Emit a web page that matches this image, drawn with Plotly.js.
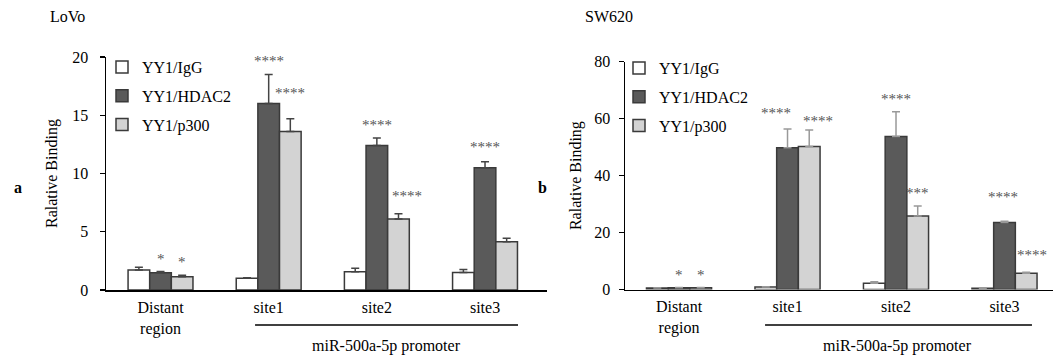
<!DOCTYPE html>
<html>
<head>
<meta charset="utf-8">
<script src="https://cdn.plot.ly/plotly-3.0.1.min.js"></script>
<style>html,body{margin:0;padding:0;background:#fff;}#chart{width:1053px;height:356px;}</style>
</head>
<body>
<div id="chart"></div>
<script>
// ---- data ----
const categories = ["Distant<br>region", "site1", "site2", "site3"];
const seriesNames = ["YY1/IgG", "YY1/HDAC2", "YY1/p300"];

// LoVo (panel a)
const lovoIgG = [1.72, 1.0, 1.57, 1.5];
const lovoIgGErr = [0.23, 0.05, 0.29, 0.25];
const lovoHDAC2 = [1.49, 16.0, 12.4, 10.5];
const lovoHDAC2Err = [0.09, 2.5, 0.65, 0.5];
const lovoP300 = [1.14, 13.6, 6.1, 4.15];
const lovoP300Err = [0.12, 1.1, 0.45, 0.3];
const lovoStars = [["", "", "", ""], ["*", "****", "****", "****"], ["*", "****", "****", ""]];

// SW620 (panel b)
const swIgG = [0.5, 0.9, 2.2, 0.4];
const swIgGErr = [0.1, 0.1, 0.5, 0.1];
const swHDAC2 = [0.6, 49.8, 53.7, 23.5];
const swHDAC2Err = [0.1, 6.6, 8.7, 0.5];
const swP300 = [0.6, 50.2, 25.8, 5.7];
const swP300Err = [0.1, 5.8, 3.5, 0.4];
const swStars = [["", "", "", ""], ["*", "****", "****", "****"], ["*", "****", "***", "****"]];

const panelTitles = ["LoVo", "SW620"];
const panelLetters = ["a", "b"];
const groupLabel = "miR-500a-5p promoter";
const yTitle = "Ralative Binding";

// ---- styles ----
const FONT = '"Liberation Serif", "Times New Roman", serif';
const fills = ["#ffffff", "#5a5a5a", "#d3d3d3"];
const outline = "#3a3a3a";
// pixel nudges for individual significance labels: key "panel-series-category"
const starNudge = {
  "a-2-1": {dx: 0, dy: 13}, "a-2-2": {dx: 9, dy: 5}, "a-1-3": {dx: 0, dy: 2},
  "b-1-1": {dx: -12, dy: 3}, "b-2-1": {dx: 9, dy: -4}, "b-1-3": {dx: -2, dy: 11}, "b-2-3": {dx: 6, dy: 4}
};

function makeTraces(vals, errs, xa, ya, legend, errColor) {
  return vals.map((v, i) => ({
    type: "bar",
    name: seriesNames[i],
    x: categories,
    y: v,
    xaxis: xa, yaxis: ya,
    legend: legend,
    legendgroup: legend + i,
    marker: {color: fills[i], line: {color: outline, width: 1.5}},
    error_y: {type: "data", symmetric: false, array: errs[i], arrayminus: errs[i].map(() => 0),
              color: errColor, thickness: 1.5, width: 4},
    hoverinfo: "none"
  }));
}

const traces = [
  ...makeTraces([lovoIgG, lovoHDAC2, lovoP300], [lovoIgGErr, lovoHDAC2Err, lovoP300Err], "x", "y", "legend", "#444"),
  ...makeTraces([swIgG, swHDAC2, swP300], [swIgGErr, swHDAC2Err, swP300Err], "x2", "y2", "legend2", "#999")
];

function starAnnots(panel, vals, errs, stars, xref, yref) {
  const out = [];
  vals.forEach((v, i) => v.forEach((val, c) => {
    if (!stars[i][c]) return;
    const n = starNudge[panel + "-" + i + "-" + c] || {dx: 0, dy: 0};
    out.push({
      x: c + (i - 1) * 0.2, y: val + errs[i][c], xref: xref, yref: yref,
      text: stars[i][c], showarrow: false, yanchor: "bottom", yshift: 3 + n.dy, xshift: n.dx,
      font: {family: FONT, size: 15, color: "#555"}
    });
  }));
  return out;
}

const annotations = [
  ...starAnnots("a", [lovoIgG, lovoHDAC2, lovoP300], [lovoIgGErr, lovoHDAC2Err, lovoP300Err], lovoStars, "x", "y"),
  ...starAnnots("b", [swIgG, swHDAC2, swP300], [swIgGErr, swHDAC2Err, swP300Err], swStars, "x2", "y2"),
  {text: panelTitles[0], x: 48/1053, y: 1 - 17/356, xref: "paper", yref: "paper", xanchor: "left", yanchor: "middle", showarrow: false, font: {family: FONT, size: 16, color: "#000"}},
  {text: panelTitles[1], x: 583/1053, y: 1 - 17/356, xref: "paper", yref: "paper", xanchor: "left", yanchor: "middle", showarrow: false, font: {family: FONT, size: 16, color: "#000"}},
  {text: "<b>" + panelLetters[0] + "</b>", x: 18/1053, y: 1 - 187/356, xref: "paper", yref: "paper", xanchor: "center", yanchor: "middle", showarrow: false, font: {family: FONT, size: 16, color: "#000"}},
  {text: "<b>" + panelLetters[1] + "</b>", x: 542/1053, y: 1 - 187/356, xref: "paper", yref: "paper", xanchor: "center", yanchor: "middle", showarrow: false, font: {family: FONT, size: 16, color: "#000"}},
  {text: groupLabel, x: 2.085, y: 1 - 346/356, xref: "x", yref: "paper", xanchor: "center", yanchor: "middle", showarrow: false, font: {family: FONT, size: 16, color: "#000"}},
  {text: groupLabel, x: 2.018, y: 1 - 346/356, xref: "x2", yref: "paper", xanchor: "center", yanchor: "middle", showarrow: false, font: {family: FONT, size: 16, color: "#000"}}
];

const shapes = [
  {type: "line", xref: "x", yref: "paper", x0: 0.874, x1: 3.305, y0: 1 - 325/356, y1: 1 - 325/356, line: {color: "#000", width: 1.5}},
  {type: "line", xref: "x2", yref: "paper", x0: 0.793, x1: 3.253, y0: 1 - 325/356, y1: 1 - 325/356, line: {color: "#000", width: 1.5}}
];

const xCommon = {type: "category", showgrid: false, zeroline: false, showline: true, linecolor: "#000", linewidth: 1.5,
  ticks: "", ticklabelstandoff: 2, tickfont: {family: FONT, size: 16, color: "#000"}, fixedrange: true};
const yCommon = {showgrid: false, zeroline: false, showline: true, linecolor: "#000", linewidth: 1.5,
  ticks: "outside", ticklen: 5, tickcolor: "#000", tickwidth: 1.2, ticklabelstandoff: 8,
  tickfont: {family: FONT, size: 16, color: "#000"}, fixedrange: true};

const legendCommon = {font: {family: FONT, size: 16, color: "#000"}, bgcolor: "rgba(0,0,0,0)",
  traceorder: "grouped", tracegroupgap: 5, itemwidth: 30, xanchor: "left", yanchor: "top"};

const layout = {
  width: 1053, height: 356,
  margin: {l: 0, r: 0, t: 0, b: 0},
  paper_bgcolor: "#fff", plot_bgcolor: "rgba(0,0,0,0)",
  barmode: "group", bargap: 0.4, bargroupgap: 0,
  font: {family: FONT, color: "#000"},
  xaxis: Object.assign({}, xCommon, {domain: [106/1053, 547/1053], range: [-0.504, 3.573], anchor: "y"}),
  yaxis: Object.assign({}, yCommon, {domain: [1 - 290/356, 1 - 57/356], range: [0, 20], dtick: 5, anchor: "x",
    title: {text: yTitle, font: {family: FONT, size: 16, color: "#000"}, standoff: 10}}),
  xaxis2: Object.assign({}, xCommon, {domain: [625/1053, 1], range: [-0.498, 3.447], anchor: "y2"}),
  yaxis2: Object.assign({}, yCommon, {domain: [1 - 289.5/356, 1 - 61.7/356], range: [0, 80], dtick: 20, anchor: "x2",
    ticklabelstandoff: 5, title: {text: yTitle, font: {family: FONT, size: 16, color: "#000"}, standoff: 8}}),
  legend: Object.assign({}, legendCommon, {x: 102/1053, y: 1 - 50/356}),
  legend2: Object.assign({}, legendCommon, {x: 619/1053, y: 1 - 51/356}),
  annotations: annotations,
  shapes: shapes,
  showlegend: true
};

Plotly.newPlot("chart", traces, layout, {displayModeBar: false, staticPlot: true});
</script>
</body>
</html>
